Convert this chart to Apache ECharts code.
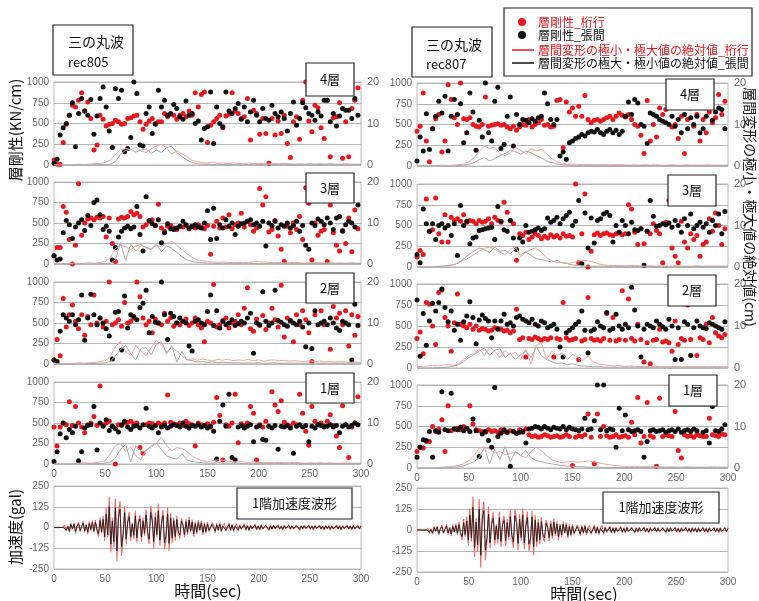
<!DOCTYPE html>
<html>
<head>
<meta charset="utf-8">
<script src="https://cdn.jsdelivr.net/npm/echarts@6/dist/echarts.min.js"></script>
<style>
  html, body { margin: 0; background: #fff; }
  #main { width: 759px; height: 601px; }
</style>
</head>
<body>
<div id="main"></div>
<script>
// scatter: one point every 3 sec, drift: every 5 sec, acceleration: every 1.5 sec
var STEP = 3, DSTEP = 5, ASTEP = 1.5;

// ---- rec805 (left column) layer stiffness [kN/cm]
var l4Red = [60,10,5,270,490,600,720,700,780,870, 650,760,560,180,240,600,550,470,490,500,
  540,520,490,500,560,570,590,600,520,430, 490,530,560,500,520,520,620,580,610,600,
  550,600,620,580,650,600,870,700,850,880, 270,480,520,560,600,450,590,610,870,650,
  620,560,580,800,300,660,620,370,560,380, 20,560,360,530,380,600,260,90,520,580,
  310,780,1000,530,400,720,690,450,320,780, 100,570,580,750,80,520,100,680,780,930];
var l4Black = [20,70,360,450,500,600,750,220,620,800, 650,600,790,370,590,800,940,700,410,210,
  920,800,900,160,200,330,1000,860,240,230, 620,700,380,490,900,700,780,600,620,730,
  680,580,550,770,600,620,500,530,300,440, 460,880,260,700,500,460,880,650,620,680,
  740,550,700,520,640,780,600,520,680,560, 540,720,620,580,640,560,410,620,760,480,
  560,750,690,620,600,540,640,590,780,780, 520,620,470,590,680,660,660,560,800,600];
var l3Red = [100,200,200,700,630,300,0,230,980,350, 500,550,560,540,570,560,580,330,560,250,
  30,550,570,560,580,640,600,620,580,450, 480,520,540,470,730,440,400,460,470,440,
  420,460,450,470,430,460,440,480,450,430, 470,120,460,520,440,560,450,600,430,480,
  500,620,450,520,480,400,440,920,720,820, 390,420,530,340,180,30,460,380,500,420,
  580,300,930,740,50,500,350,400,420,30, 720,380,230,160,410,250,560,150,660,430];
var l3Black = [100,50,60,380,530,480,310,450,500,540, 410,590,470,750,780,600,420,460,400,50,
  200,330,400,440,460,430,450,700,360,160, 820,530,490,470,540,260,380,490,430,420,
  440,460,520,480,440,460,480,450,440,500, 650,300,680,310,480,440,540,460,500,360,
  460,490,500,520,540,480,500,460,520,220, 500,470,520,440,480,460,500,440,470,520,
  400,470,230,180,500,470,550,520,480,560, 500,420,560,580,400,480,520,500,450,720];
var l2Red = [50,300,100,800,450,600,720,520,430,600, 350,580,480,840,500,560,450,520,1000,480,
  500,540,460,750,500,520,560,1000,820,560, 480,520,380,550,500,480,620,520,560,460,
  500,480,520,550,470,500,560,480,440,270, 520,500,970,450,480,530,560,440,500,520,
  600,480,680,930,430,400,550,470,590,420, 500,680,540,450,960,330,560,520,270,600,
  480,650,540,380,30,600,880,650,480,1000, 180,700,560,620,480,650,220,600,350,580];
var l2Black = [50,30,400,600,560,520,600,480,540,840, 290,560,850,600,480,560,500,430,340,60,
  630,640,170,830,440,600,580,540,690,740, 900,380,580,510,500,1000,600,300,620,580,
  500,560,520,500,220,160,520,540,500,480, 640,840,470,650,440,520,480,500,540,470,
  490,520,500,560,620,130,500,480,880,520, 470,500,900,530,510,480,460,530,500,480,
  520,450,210,500,190,650,480,500,520,480, 560,500,440,410,520,500,480,50,730,470];
var l1Red = [450,220,450,500,480,760,470,700,500,450, 380,480,500,580,470,950,480,500,520,460,
  0,480,470,500,510,520,490,500,200,130, 480,500,490,470,500,480,500,840,510,490,
  480,500,470,520,490,480,220,500,480,470, 490,450,510,810,590,50,480,460,500,850,
  260,490,470,500,700,620,50,480,450,520, 460,880,720,640,770,510,480,460,500,480,
  850,620,400,230,700,520,480,500,460,520, 600,470,340,200,710,480,80,450,500,820];
var l1Black = [30,150,370,500,320,420,380,460,40,150, 440,470,480,700,170,500,460,540,410,460,
  430,390,480,520,450,420,460,470,440,480, 680,460,440,470,380,450,470,440,460,480,
  470,450,500,460,440,470,460,480,450,470, 440,460,400,60,520,720,460,850,80,50,
  450,470,440,460,480,270,450,470,300,290, 460,440,470,180,460,450,470,440,130,460,
  480,450,470,270,460,440,480,470,450,460, 480,450,470,380,460,480,450,470,500,480];

// ---- rec807 (right column) layer stiffness [kN/cm]
var r4Red = [420,480,880,300,50,450,570,620,170,300, 980,800,580,500,1000,570,560,580,500,480,
  470,500,830,480,490,500,510,490,500,470, 450,480,430,470,500,490,560,470,500,520,
  560,490,500,470,480,790,800,220,770,650, 700,600,720,600,850,560,520,550,560,540,
  560,580,600,560,600,640,610,590,620,560, 500,480,370,150,790,300,500,350,700,620,
  680,750,470,500,330,600,150,560,700,480, 620,300,560,400,650,520,580,860,620,780];
var r4Black = [60,350,180,630,200,450,600,780,640,840, 180,600,800,620,750,280,400,880,650,190,
  550,350,1000,400,300,780,950,210,260,600, 830,240,620,500,560,550,520,570,540,580,
  600,880,750,560,500,560,120,170,80,280, 300,330,350,380,360,400,420,410,440,400,
  380,420,440,400,430,380,420,600,770,620, 800,760,500,480,270,640,620,600,560,540,
  520,500,600,480,560,400,620,450,580,500, 600,400,450,600,860,550,650,700,680,450];
var r3Red = [120,200,150,820,430,450,830,400,300,630, 300,600,560,580,550,630,540,560,550,520,
  560,540,550,580,520,600,560,540,780,660, 560,520,80,400,380,420,330,360,400,380,
  340,370,350,390,360,380,350,400,370,380, 360,1000,50,400,880,0,190,390,410,380,
  400,410,390,380,400,410,390,400,750,700, 420,270,460,280,430,400,520,440,400,50,
  540,800,230,130,50,550,300,230,400,330, 380,130,270,300,580,430,650,500,270,460];
var r3Black = [150,50,700,520,430,520,330,500,520,470, 500,380,520,140,740,500,550,280,350,360,
  440,450,460,470,480,330,730,550,450,430, 560,350,210,350,300,500,420,430,450,470,
  440,460,590,540,560,600,520,580,620,660, 500,550,800,40,650,230,590,290,560,580,
  640,660,620,300,500,420,560,500,400,540, 450,440,460,20,430,800,610,490,500,520,
  510,530,480,560,500,420,580,500,640,460, 500,540,480,520,420,560,500,640,400,670];
var r2Red = [350,430,170,780,760,500,280,900,930,600, 500,200,540,880,520,500,480,520,460,500,
  450,470,460,440,450,480,470,460,440,450, 420,440,700,340,360,130,350,340,370,350,
  330,350,340,360,130,350,340,780,360,330, 340,350,100,320,340,840,350,330,340,320,
  350,650,330,600,320,340,920,330,820,350, 320,520,340,70,300,50,330,340,460,310,
  320,300,200,560,280,350,330,750,340,1000, 150,360,340,520,300,600,420,380,360,400];
var r2Black = [810,140,650,270,560,770,680,780,940,720, 550,680,450,520,330,550,620,790,600,290,
  570,630,590,560,360,560,460,560,640,520, 540,500,600,620,580,560,540,580,520,500,
  560,540,480,500,520,460,250,130,420,450, 480,520,550,680,450,180,440,460,550,500,
  480,660,450,470,640,500,460,520,480,960, 690,500,130,460,520,500,480,560,520,490,
  460,580,500,100,480,100,550,520,150,480, 560,500,480,470,540,520,500,480,460,550];
var r1Red = [200,250,240,320,320,500,440,470,580,200, 750,450,470,480,460,500,480,750,530,460,
  450,440,430,460,440,450,430,460,440,430, 450,440,420,460,430,470,400,380,390,370,
  380,400,390,370,380,390,370,380,400,380, 30,370,390,380,400,650,370,50,650,380,
  500,390,370,380,400,370,380,390,370,550, 400,850,300,380,790,390,370,20,840,380,
  400,390,380,680,210,120,400,380,390,370, 400,390,380,380,600,400,390,380,410,400];
var r1Black = [130,250,340,330,440,130,450,430,920,460, 450,900,470,460,490,450,480,440,590,450,
  140,410,440,330,250,970,380,420,460,430, 20,440,420,430,440,300,470,480,500,490,
  470,500,480,460,490,480,470,500,460,490, 470,460,450,470,600,460,470,570,1000,460,
  1000,450,470,460,250,720,450,640,460,440, 450,460,440,130,320,450,460,440,450,460,
  430,450,460,440,470,430,450,460,440,470, 450,970,430,450,300,740,450,440,470,520];

// ---- inter-story drift |min/max| [cm], every 5 sec
var l4RedDrift = [0,0,0,0.1,0.1,0.2,0.1,0.2,0.4,0.3,0.6,1.2, 2.5,3.6,4.0,3.7,4.3,3.4,3.0,3.9,4.6,5.0,4.1,2.6,
  3.4,2.7,2.0,1.1,0.8,0.6,0.5,0.7,0.4,0.5,0.3,0.5, 0.4,0.3,0.5,0.3,0.4,0.3,0.2,0.4,0.3,0.4,0.3,0.2,
  0.3,0.2,0.3,0.2,0.3,0.2,0.3,0.2,0.2,0.3,0.2,0.2,0.2];
var l4BlackDrift = [0,0,0,0,0,0,0,0,0.1,0.1,0.1,0.2, 0.8,2.6,3.5,3.8,3.1,3.6,3.9,2.8,3.6,3.0,4.2,4.5,
  3.0,2.0,1.2,0.6,0.3,0.2,0.2,0.1,0.2,0.1,0.2,0.1, 0.1,0.2,0.1,0.2,0.1,0.1,0.2,0.1,0.1,0.2,0.1,0.1,
  0.1,0.1,0.2,0.1,0.1,0.1,0.2,0.1,0.1,0.1,0.1,0.1,0.1];
var l3RedDrift = [0,0,0.1,0.1,0.2,0.1,0.2,0.3,0.2,0.4,0.6,1.5, 3.8,4.6,4.2,3.5,4.4,4.8,4.0,3.6,4.5,4.2,5.0,5.5,
  4.6,3.5,2.5,1.6,1.0,0.8,0.6,0.5,0.4,0.5,0.4,0.3, 0.4,0.3,0.4,0.5,0.6,0.5,0.4,0.3,0.4,0.3,0.3,0.4,
  0.3,0.2,0.3,0.4,0.3,0.2,0.3,0.2,0.3,0.2,0.3,0.2,0.2];
var l3BlackDrift = [0,0,0,0,0,0,0,0,0,0.1,0.1,0.2, 1.0,5.2,0.8,4.8,3.2,4.5,4.0,3.6,4.8,3.0,4.4,3.8,
  2.8,1.8,1.0,0.6,0.4,0.3,0.2,0.2,0.1,0.2,0.1,0.1, 0.1,0.1,0.2,0.1,0.1,0.1,0.1,0.2,0.1,0.1,0.1,0.1,
  0.1,0.1,0.1,0.1,0.1,0.1,0.1,0.1,0.1,0.1,0.1,0.1,0.1];
var l2RedDrift = [0,0,0,0.1,0.2,0.3,0.2,0.3,0.4,0.6,0.8,1.8, 4.2,5.5,3.0,2.0,4.5,3.2,2.0,4.0,5.8,4.5,3.0,4.0,
  3.2,2.0,1.0,1.3,0.9,1.2,1.0,0.8,1.1,0.9,1.2,0.8, 1.0,0.9,1.1,0.8,1.0,0.7,0.9,1.0,0.8,0.9,0.7,0.8,
  0.7,0.6,0.8,0.6,0.7,0.5,0.6,0.5,0.6,0.5,0.4,0.5,0.4];
var l2BlackDrift = [0,0,0,0,0,0,0,0.1,0.1,0.2,0.3,0.6, 2.0,3.5,4.5,2.5,1.0,3.8,4.0,2.2,4.8,5.5,2.5,4.5,
  0.5,3.0,1.0,0.8,0.5,0.6,0.4,0.5,0.3,0.4,0.3,0.3, 0.3,0.2,0.3,0.2,0.3,0.2,0.2,0.3,0.2,0.2,0.2,0.2,
  0.2,0.2,0.2,0.2,0.2,0.2,0.2,0.2,0.2,0.2,0.2,0.2,0.2];
var l1RedDrift = [0,0,0,0,0.1,0.2,0.3,0.2,0.3,0.5,0.8,2.5, 4.5,5.0,3.0,4.2,2.0,1.0,3.5,4.0,5.0,6.5,4.5,3.2,
  4.0,3.8,3.0,2.0,1.2,0.8,0.5,0.8,1.0,0.9,0.6,0.5, 0.6,0.5,0.4,0.5,0.4,0.3,0.4,0.3,0.4,0.3,0.3,0.4,
  0.3,0.2,0.3,0.2,0.3,0.2,0.3,0.2,0.2,0.3,0.2,0.2,0.2];
var l1BlackDrift = [0,0,0,0,0,0,0,0,0.1,0.1,0.2,0.5, 1.5,3.5,4.8,0.5,4.5,3.0,3.2,4.5,5.0,3.5,2.0,1.5,
  1.2,2.5,1.0,0.6,0.4,0.3,0.2,0.2,0.3,0.2,0.2,0.2, 0.2,0.1,0.2,0.1,0.2,0.1,0.1,0.2,0.1,0.1,0.2,0.1,
  0.1,0.1,0.1,0.1,0.1,0.1,0.1,0.1,0.1,0.1,0.1,0.1,0.1];
var r4RedDrift = [0,0,0,0,0.1,0.2,0.1,0.2,0.3,0.5,1.0,2.0, 3.5,4.8,4.2,4.6,3.0,2.5,3.2,4.5,3.8,3.0,4.2,3.6,
  4.0,3.0,1.8,1.0,0.6,0.4,0.5,0.4,0.3,0.4,0.3,0.3, 0.4,0.3,0.3,0.4,0.3,0.2,0.3,0.2,0.3,0.2,0.3,0.2,
  0.2,0.3,0.2,0.2,0.3,0.2,0.2,0.2,0.3,0.2,0.2,0.2,0.2];
var r4BlackDrift = [0,0,0,0,0,0,0,0,0.1,0.2,0.4,0.8, 1.5,2.0,1.2,1.8,2.5,3.0,3.8,3.5,2.8,3.6,3.2,2.5,
  2.0,1.2,0.8,0.5,0.3,0.2,0.2,0.1,0.2,0.1,0.1,0.1, 0.1,0.1,0.1,0.1,0.1,0.1,0.1,0.1,0.1,0.1,0.1,0.1,
  0.1,0.1,0.1,0.1,0.1,0.1,0.1,0.1,0.1,0.1,0.1,0.1,0.1];
var r3RedDrift = [0,0,0,0,0.1,0.2,0.4,0.6,1.0,1.6,2.2,3.0, 3.8,4.5,4.8,4.2,3.6,3.0,4.2,5.0,2.5,3.5,4.2,4.6,
  3.5,2.2,1.5,1.0,1.1,0.9,1.0,1.4,1.6,1.5,1.2,0.8, 0.5,0.4,0.3,0.4,0.3,0.3,0.4,0.3,0.2,0.3,0.2,0.3,
  0.2,0.2,0.3,0.2,0.2,0.2,0.3,0.2,0.2,0.2,0.2,0.2,0.2];
var r3BlackDrift = [0,0,0,0,0.1,0.2,0.3,0.5,1.0,2.0,3.0,3.8, 4.6,4.2,3.5,4.8,3.8,4.0,3.2,4.5,3.0,3.6,2.8,2.0,
  1.8,1.5,1.2,1.6,1.0,0.8,0.5,0.4,0.3,0.2,0.2,0.2, 0.2,0.1,0.2,0.1,0.1,0.2,0.1,0.1,0.1,0.1,0.1,0.1,
  0.1,0.1,0.1,0.1,0.1,0.1,0.1,0.1,0.1,0.1,0.1,0.1,0.1];
var r2RedDrift = [0.3,0.4,0.5,0.6,0.5,0.7,0.8,0.6,1.0,2.0,3.0,3.5, 4.5,3.0,5.0,4.0,2.5,4.2,3.0,3.8,2.0,4.5,1.0,5.5,
  6.0,2.0,4.0,3.0,3.5,2.0,3.2,2.5,1.8,2.8,1.5,1.0, 0.8,0.6,0.5,0.6,0.4,0.5,0.4,0.3,0.4,0.3,0.4,0.3,
  0.3,0.3,0.4,0.3,0.3,0.2,0.3,0.3,0.2,0.3,0.2,0.3,0.2];
var r2BlackDrift = [0,0,0,0,0.1,0.1,0.2,0.4,0.8,1.5,2.5,3.2, 4.0,4.8,3.0,4.2,4.6,2.5,3.5,2.0,3.2,4.0,2.5,5.0,
  3.0,2.0,1.5,1.0,1.2,0.8,1.0,0.6,0.5,0.4,0.3,0.3, 0.2,0.2,0.2,0.2,0.2,0.2,0.2,0.2,0.2,0.2,0.2,0.2,
  0.2,0.2,0.2,0.2,0.2,0.2,0.2,0.2,0.2,0.2,0.2,0.2,0.2];
var r1RedDrift = [0,0,0,0,0.1,0.2,0.3,0.4,0.6,1.0,1.8,3.0, 4.8,5.0,4.5,3.6,4.0,3.2,3.5,3.8,3.0,2.5,4.0,5.0,
  4.2,3.0,2.0,1.6,1.2,1.5,1.6,1.4,1.5,1.7,1.5,1.3, 1.0,0.8,0.6,0.5,0.4,0.3,0.4,0.3,0.3,0.4,0.3,0.3,
  0.2,0.3,0.2,0.2,0.3,0.2,0.2,0.2,0.2,0.3,0.2,0.2,0.2];
var r1BlackDrift = [0,0,0,0,0,0.1,0.1,0.2,0.3,0.5,1.0,1.5, 2.5,5.0,1.0,4.5,2.0,5.2,1.5,4.0,3.0,4.2,2.5,1.8,
  1.5,1.2,1.0,0.8,0.6,0.5,0.4,0.3,0.3,0.2,0.2,0.2, 0.1,0.1,0.1,0.1,0.1,0.1,0.1,0.1,0.1,0.1,0.1,0.1,
  0.1,0.1,0.1,0.1,0.1,0.1,0.1,0.1,0.1,0.1,0.1,0.1,0.1];

// ---- 1st floor acceleration [gal], every 1.5 sec
var lAccRed = [0,1,-1,0,1,-1,2,
  15,-22,8,-30,25,-12,28,-35,10,32, -25,-15,38,-30,20,-40,35,-18,42,-30,
  45,-20,-55,60,-35,70,-80,
  120,-60,185,-150,60,-120,175,-205,90,160,-170,-60,130,
  -100,45,95,-80,30,-70,100,-90,40,75,-85,60,-50,
  110,-40,-100,130,60,-125,90,-60,145,-110, 30,105,-130,-70,120,-140,85,-95,60,-80,
  70,-40,-65,55,20,-60,50,-45,65,-30, 48,-55,35,-40,45,-20,40,-45,30,-35,
  32,-25,-30,28,15,-32,25,-20,30,-28, 12,26,-24,-15,28,-22,20,-25,10,24, -22,18,-12,-20,22,-18,15,-20,16,-10, -18,20,-15,12,
  -16,18,-10,-15,16,8,-18,14,-12,16, -8,-15,17,-12,10,-16,15,-6,-14,16, -12,13,-10,-15,14,9,-16,13,-11,15,
  -8,-14,16,-12,11,-15,13,-7,-14,15, -12,10,-16,14,-9,12,-15,13,-10,-14, 15,-11,12,-16,13,-8,-13,15,-12,11, -15,14,-10,-13,15,-11,12];
var lAccBlack = [0,0,1,-1,0,1,0,
  10,-15,6,-20,18,-8,20,-24,7,22, -18,-10,26,-20,14,-28,24,-12,30,-22,
  32,-15,-38,42,-25,48,-55,
  80,-45,125,-100,40,-85,120,-140,60,110,-115,-40,90,
  -70,30,65,-55,20,-48,70,-62,28,52,-58,40,-35,
  75,-28,-70,90,40,-85,62,-42,100,-76, 20,72,-90,-48,82,-96,58,-65,42,-55,
  48,-28,-45,38,14,-42,35,-30,45,-20, 33,-38,24,-28,30,-14,28,-30,20,-24,
  22,-17,-20,19,10,-22,17,-14,20,-19, 8,18,-16,-10,19,-15,14,-17,7,16, -15,12,-8,-14,15,-12,10,-14,11,-7, -12,14,-10,8,
  -11,12,-7,-10,11,5,-12,10,-8,11, -5,-10,12,-8,7,-11,10,-4,-10,11, -8,9,-7,-10,10,6,-11,9,-8,10,
  -5,-10,11,-8,8,-10,9,-5,-10,10, -8,7,-11,10,-6,8,-10,9,-7,-10, 10,-8,8,-11,9,-5,-9,10,-8,8, -10,10,-7,-9,10,-8,8];
var rAccRed = [0,1,0,-1,1,0,-1,
  12,-20,6,-26,22,-10,25,-30,8,30, -22,-14,34,-28,18,-36,32,-16,40,-28,
  48,-25,-60,65,-40,80,-90,
  130,-70,200,-160,70,-130,185,-225,100,170,-180,-70,140,
  -110,50,105,-90,35,-80,110,-100,45,85,-95,65,-60,
  120,-45,-105,125,65,-120,95,-65,130,-115, 35,110,-125,-75,115,-150,90,-100,65,-85,
  75,-45,-70,60,22,-65,55,-50,70,-35, 52,-60,38,-45,50,-22,44,-48,32,-38,
  35,-28,-33,30,16,-35,28,-22,32,-30, 14,28,-26,-17,30,-24,22,-27,12,26, -24,20,-14,-22,24,-20,17,-22,18,-12, -20,22,-17,14,
  -18,20,-12,-17,18,9,-20,16,-14,18, -9,-17,19,-14,12,-18,17,-7,-16,18, -14,15,-12,-17,16,10,-18,15,-13,17,
  -9,-16,18,-14,13,-17,15,-8,-16,17, -14,12,-18,16,-10,14,-17,15,-12,-16, 17,-13,14,-18,15,-9,-15,17,-14,13, -17,16,-12,-15,17,-13,14];
var rAccBlack = [0,0,1,0,-1,0,1,
  8,-13,4,-17,15,-7,17,-20,6,20, -15,-9,23,-18,12,-24,21,-11,26,-19,
  32,-17,-40,44,-27,54,-60,
  88,-48,135,-108,47,-88,125,-150,66,115,-120,-47,95,
  -75,34,70,-60,24,-54,74,-68,30,57,-64,44,-40,
  80,-30,-70,84,44,-80,64,-44,88,-78, 24,74,-84,-50,78,-100,60,-68,44,-58,
  50,-30,-47,40,15,-44,37,-34,47,-24, 35,-40,26,-30,34,-15,30,-32,22,-26,
  24,-19,-22,20,11,-24,19,-15,22,-20, 9,19,-18,-11,20,-16,15,-18,8,18, -16,14,-9,-15,16,-14,11,-15,12,-8, -14,15,-11,9,
  -12,13,-8,-11,12,6,-13,11,-9,12, -6,-11,13,-9,8,-12,11,-5,-11,12, -9,10,-8,-11,11,7,-12,10,-9,11,
  -6,-11,12,-9,9,-11,10,-5,-11,11, -9,8,-12,11,-7,9,-11,10,-8,-11, 11,-9,9,-12,10,-6,-10,11,-9,9, -11,11,-8,-10,11,-9,9];

var floorNames = ['4層', '3層', '2層', '1層'];
var cols = [
  { wave: '三の丸波', rec: 'rec805', x: 54, w: 307, tops: [82, 182, 282, 382, 486], hs: [83, 82, 82, 82, 83],
    red: [l4Red, l3Red, l2Red, l1Red], black: [l4Black, l3Black, l2Black, l1Black],
    redDrift: [l4RedDrift, l3RedDrift, l2RedDrift, l1RedDrift], blackDrift: [l4BlackDrift, l3BlackDrift, l2BlackDrift, l1BlackDrift],
    accRed: lAccRed, accBlack: lAccBlack },
  { wave: '三の丸波', rec: 'rec807', x: 417, w: 311, tops: [83, 184, 284, 385, 488], hs: [83, 83, 84, 83, 84],
    red: [r4Red, r3Red, r2Red, r1Red], black: [r4Black, r3Black, r2Black, r1Black],
    redDrift: [r4RedDrift, r3RedDrift, r2RedDrift, r1RedDrift], blackDrift: [r4BlackDrift, r3BlackDrift, r2BlackDrift, r1BlackDrift],
    accRed: rAccRed, accBlack: rAccBlack }
];

var FONT = '"Noto Sans CJK JP", "Liberation Sans", sans-serif';
var RED = '#e8161d';

function pts(arr, step) {
  return arr.map(function (v, i) { return [i * step, v]; });
}
function plain(v) { return String(v); }

var grids = [], xAxes = [], yAxes = [], series = [];
var labelStyle = { color: '#666', fontSize: 10, fontFamily: '"Liberation Sans", sans-serif', formatter: plain };

cols.forEach(function (c) {
  for (var p = 0; p < 5; p++) {
    var gi = grids.length;
    grids.push({ left: c.x, top: c.tops[p], width: c.w, height: c.hs[p], show: true,
      borderColor: '#bbb', borderWidth: 1, backgroundColor: '#fff' });
    xAxes.push({ type: 'value', gridIndex: gi, min: 0, max: 300, interval: 50,
      axisLine: { show: false }, axisTick: { show: false }, splitLine: { show: false },
      axisLabel: Object.assign({ show: p >= 3, margin: 5 }, labelStyle) });
    var yl = yAxes.length;
    if (p < 4) {
      yAxes.push({ type: 'value', gridIndex: gi, min: 0, max: 1000, interval: 250,
        axisLine: { show: false }, axisTick: { show: false },
        splitLine: { lineStyle: { color: '#b4b4b4', width: 1 } },
        axisLabel: Object.assign({ margin: 5 }, labelStyle) });
      yAxes.push({ type: 'value', gridIndex: gi, position: 'right', min: 0, max: 20, interval: 10,
        axisLine: { show: false }, axisTick: { show: false }, splitLine: { show: false },
        axisLabel: Object.assign({ margin: 6 }, labelStyle, { fontSize: 11 }) });
      series.push({ name: '層間変形の極小・極大値の絶対値_桁行', type: 'line', xAxisIndex: gi, yAxisIndex: yl + 1,
        data: pts(c.redDrift[p], DSTEP), symbol: 'none', lineStyle: { color: '#efa6a6', width: 1 } });
      series.push({ name: '層間変形の極大・極小値の絶対値_張間', type: 'line', xAxisIndex: gi, yAxisIndex: yl + 1,
        data: pts(c.blackDrift[p], DSTEP), symbol: 'none', lineStyle: { color: '#a8a8a8', width: 1 } });
      series.push({ name: '層剛性_桁行', type: 'scatter', xAxisIndex: gi, yAxisIndex: yl,
        data: pts(c.red[p], STEP), symbolSize: 5, itemStyle: { color: RED, opacity: 1 } });
      series.push({ name: '層剛性_張間', type: 'scatter', xAxisIndex: gi, yAxisIndex: yl,
        data: pts(c.black[p], STEP), symbolSize: 5, itemStyle: { color: '#111', opacity: 1 } });
    } else {
      yAxes.push({ type: 'value', gridIndex: gi, min: -250, max: 250, interval: 125,
        axisLine: { show: false }, axisTick: { show: false },
        splitLine: { lineStyle: { color: '#b4b4b4', width: 1 } },
        axisLabel: Object.assign({ margin: 5 }, labelStyle) });
      series.push({ name: 'acc_桁行', type: 'line', xAxisIndex: gi, yAxisIndex: yl,
        data: pts(c.accRed, ASTEP), symbol: 'none', lineStyle: { color: '#f05a5a', width: 1.1, opacity: 0.9 } });
      series.push({ name: 'acc_張間', type: 'line', xAxisIndex: gi, yAxisIndex: yl,
        data: pts(c.accBlack, ASTEP), symbol: 'none', lineStyle: { color: '#1a1a1a', width: 0.9 } });
    }
  }
});

function box(x, y, w, h, text, size) {
  return [
    { type: 'rect', z: 100, shape: { x: x, y: y, width: w, height: h },
      style: { fill: '#fff', stroke: '#222', lineWidth: 1.2 } },
    { type: 'text', z: 101, x: x + w / 2, y: y + h / 2,
      style: { text: text, align: 'center', verticalAlign: 'middle', font: size + 'px ' + FONT, fill: '#111' } }
  ];
}

function txt(x, y, text, size, color, rot, align) {
  return { type: 'text', x: x, y: y, rotation: rot || 0, z: 101,
    style: { text: text, align: align || 'center', verticalAlign: 'middle', font: size + 'px ' + FONT, fill: color || '#111' } };
}

var graphics = [].concat(
  // title boxes
  [{ type: 'rect', z: 100, shape: { x: 53, y: 25, width: 80, height: 50 }, style: { fill: '#fff', stroke: '#222', lineWidth: 1.2 } },
   txt(68, 42, cols[0].wave, 14, '#111', 0, 'left'),
   txt(68, 62, cols[0].rec, 13, '#111', 0, 'left'),
   { type: 'rect', z: 100, shape: { x: 412, y: 27, width: 80, height: 50 }, style: { fill: '#fff', stroke: '#222', lineWidth: 1.2 } },
   txt(426, 45, cols[1].wave, 14, '#111', 0, 'left'),
   txt(426, 64, cols[1].rec, 13, '#111', 0, 'left')],
  // floor boxes
  box(306, 63, 48, 33, floorNames[0], 13), box(306, 173, 48, 30, floorNames[1], 13),
  box(306, 273, 48, 30, floorNames[2], 13), box(306, 373, 48, 30, floorNames[3], 13),
  box(666, 79, 48, 31, floorNames[0], 13), box(668, 175, 48, 31, floorNames[1], 13),
  box(668, 275, 48, 31, floorNames[2], 13), box(669, 375, 48, 31, floorNames[3], 13),
  box(237, 488, 115, 31, '1階加速度波形', 13), box(603, 492, 116, 31, '1階加速度波形', 13),
  // axis titles
  [txt(15, 130, '層剛性(KN/cm)', 15, '#111', Math.PI / 2),
   txt(15, 527, '加速度(gal)', 15, '#111', Math.PI / 2),
   txt(750, 207, '層間変形の極小・極大値の絶対値(cm)', 14, '#111', -Math.PI / 2),
   txt(208, 591, '時間(sec)', 16, '#111'),
   txt(584, 594, '時間(sec)', 16, '#111')],
  // legend
  [{ type: 'rect', z: 100, shape: { x: 504, y: 8, width: 248, height: 68 }, style: { fill: '#fff', stroke: '#222', lineWidth: 1.2 } },
   { type: 'circle', z: 101, shape: { cx: 522, cy: 22, r: 4 }, style: { fill: RED } },
   txt(538, 22, '層剛性_桁行', 12, RED, 0, 'left'),
   { type: 'circle', z: 101, shape: { cx: 522, cy: 35, r: 4 }, style: { fill: '#111' } },
   txt(538, 35, '層剛性_張間', 12, '#111', 0, 'left'),
   { type: 'line', z: 101, shape: { x1: 512, y1: 50, x2: 534, y2: 50 }, style: { stroke: RED, lineWidth: 1.5 } },
   txt(538, 50, '層間変形の極小・極大値の絶対値_桁行', 12, RED, 0, 'left'),
   { type: 'line', z: 101, shape: { x1: 512, y1: 63, x2: 534, y2: 63 }, style: { stroke: '#111', lineWidth: 1.5 } },
   txt(538, 63, '層間変形の極大・極小値の絶対値_張間', 12, '#111', 0, 'left')]
);

var chart = echarts.init(document.getElementById('main'), null, { renderer: 'canvas' });
chart.setOption({
  backgroundColor: '#fff',
  animation: false,
  grid: grids,
  xAxis: xAxes,
  yAxis: yAxes,
  series: series,
  graphic: graphics
});
</script>
</body>
</html>
